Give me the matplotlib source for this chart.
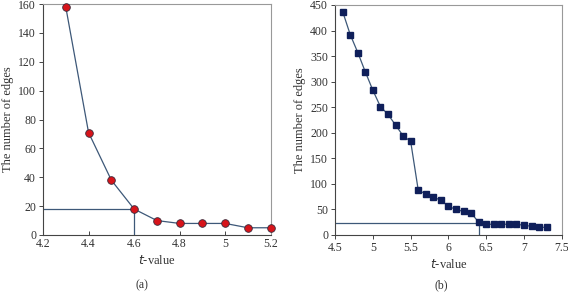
import matplotlib.pyplot as plt

# panel (a)
ta = [4.3, 4.4, 4.5, 4.6, 4.7, 4.8, 4.9, 5.0, 5.1, 5.2]
ea = [158, 71, 38, 18, 10, 8, 8, 8, 5, 5]
ta_sel, ea_sel = 4.6, 18

# panel (b)
tb = [4.6, 4.7, 4.8, 4.9, 5.0, 5.1, 5.2, 5.3, 5.4, 5.5, 5.6, 5.7, 5.8, 5.9,
      6.0, 6.1, 6.2, 6.3, 6.4, 6.5, 6.6, 6.7, 6.8, 6.9, 7.0, 7.1, 7.2, 7.3]
eb = [437, 392, 357, 319, 283, 251, 236, 215, 194, 183, 88, 80, 74, 68,
      56, 50, 46, 43, 25, 21, 21, 21, 21, 21, 19, 17, 15, 15]
tb_sel, eb_sel = 6.4, 24

plt.rcParams['font.family'] = ['Liberation Serif', 'DejaVu Serif']
plt.rcParams['font.size'] = 8.5

fig = plt.figure(figsize=(5.68, 2.93), dpi=100)
ax1 = fig.add_axes([0.0757, 0.198, 0.401, 0.788])
ax2 = fig.add_axes([0.590, 0.198, 0.399, 0.785])

line_col = '#3d5878'
frame_col = '#6e6e6e'
text_col = '#333333'

ax1.plot(ta, ea, color=line_col, lw=0.9, marker='o', ms=5.5,
         mfc='#d7141a', mec='#3a2a3a', mew=0.6, clip_on=False, zorder=3)
ax1.plot([4.2, ta_sel], [ea_sel, ea_sel], color=line_col, lw=0.9)
ax1.plot([ta_sel, ta_sel], [0, ea_sel], color=line_col, lw=0.9)
ax1.set_xlim(4.2, 5.2)
ax1.set_ylim(0, 160)
ax1.set_xticks([4.2, 4.4, 4.6, 4.8, 5.0, 5.2])
ax1.set_xticklabels(['4.2', '4.4', '4.6', '4.8', '5', '5.2'])
ax1.set_yticks(range(0, 161, 20))

ax2.plot(tb, eb, color=line_col, lw=0.9, marker='s', ms=5,
         mfc='#0f1f5a', mec='#0f1f5a', clip_on=False, zorder=3)
ax2.plot([4.5, tb_sel], [eb_sel, eb_sel], color=line_col, lw=0.9)
ax2.plot([tb_sel, tb_sel], [0, eb_sel], color=line_col, lw=0.9)
ax2.set_xlim(4.5, 7.5)
ax2.set_ylim(0, 450)
ax2.set_xticks([4.5, 5, 5.5, 6, 6.5, 7, 7.5])
ax2.set_xticklabels(['4.5', '5', '5.5', '6', '6.5', '7', '7.5'])
ax2.set_yticks(range(0, 451, 50))

for ax in (ax1, ax2):
    for s in ax.spines.values():
        s.set_linewidth(0.8)
    ax.spines['left'].set_color('#444444')
    ax.spines['bottom'].set_color('#444444')
    ax.spines['top'].set_color('#999999')
    ax.spines['right'].set_color('#999999')
    ax.tick_params(direction='out', length=3, width=0.7, color='#444444',
                   labelsize=8.5, labelcolor=text_col, pad=2)
    ax.set_xlabel(r'$\it{t}$-value', fontsize=9, color=text_col, labelpad=3)
    ax.set_ylabel('The number of edges', fontsize=9, color=text_col, labelpad=3)
ax1.tick_params(axis='x', direction='in')

fig.text(0.25, 0.015, '(a)', ha='center', fontsize=8.5, color=text_col)
fig.text(0.777, 0.015, '(b)', ha='center', fontsize=8.5, color=text_col)

fig.savefig('out.png', dpi=100)
